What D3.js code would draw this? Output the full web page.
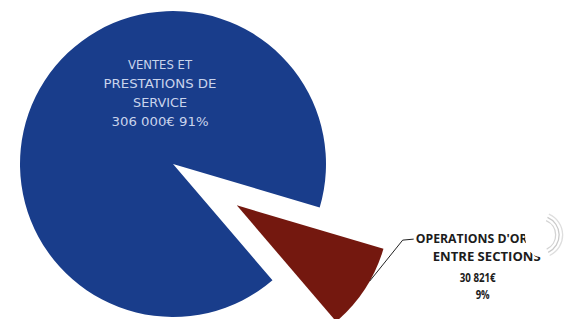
<!DOCTYPE html>
<html>
<head>
<meta charset="utf-8">
<script src="https://cdn.jsdelivr.net/npm/d3@7"></script>
<style>
  html, body { margin: 0; padding: 0; background: #fff; }
  svg { display: block; }
</style>
</head>
<body>
<div class="bod"></div>
<script>
// data
const labels = ["OPERATIONS D'ORDRE ENTRE SECTIONS", "VENTES ET PRESTATIONS DE SERVICE"]
const values = [30821, 306000]
const valueText = ["30 821€", "306 000€"]
const pctText = ["9%", "91%"]
const colors = ["#74180f", "#193d8b"]

const size = {width: 573, height: 319}
const pieCfg = {cx: 173, cy: 164, r: 153, explode: 76, startDeg: 106.5}

const svg = d3.select('.bod')
  .append('svg')
  .attr('width', size.width)
  .attr('height', size.height)

const pie = d3.pie()
  .sort(null)
  .value(d => d)
  .startAngle(pieCfg.startDeg * Math.PI / 180)
  .endAngle(pieCfg.startDeg * Math.PI / 180 + 2 * Math.PI)

const arcs = pie(values)
const arc = d3.arc().innerRadius(0).outerRadius(pieCfg.r)

// offset of each slice (only the small one is pulled out)
const offset = (d, i) => {
  if (i !== 0) return [0, 0]
  const mid = (d.startAngle + d.endAngle) / 2
  return [Math.sin(mid) * pieCfg.explode, -Math.cos(mid) * pieCfg.explode]
}

const g = svg.append('g')
  .attr('transform', `translate(${pieCfg.cx},${pieCfg.cy})`)

g.selectAll('path')
  .data(arcs)
  .enter()
  .append('path')
  .attr('d', arc)
  .attr('fill', (d, i) => colors[i])
  .attr('transform', (d, i) => `translate(${offset(d, i)})`)

// label of the big slice, inside
const bigLines = ["VENTES ET", "PRESTATIONS DE", "SERVICE", `${valueText[1]} ${pctText[1]}`]
const bigWidths = [64, 113, 54, 97]
g.append('g')
  .attr('transform', 'translate(-13,-95)')
  .selectAll('text')
  .data(bigLines)
  .enter()
  .append('text')
  .attr('x', 0)
  .attr('y', (d, i) => i * 19)
  .attr('text-anchor', 'middle')
  .attr('font-family', 'DejaVu Sans, sans-serif')
  .attr('font-size', 11.5)
  .attr('fill', '#c9d4ec')
  .attr('textLength', (d, i) => bigWidths[i])
  .attr('lengthAdjust', 'spacingAndGlyphs')
  .text(d => d)

// label of the small slice, outside with leader line
const small = arcs[0]
const off = offset(small, 0)
const outer = d3.arc().innerRadius(pieCfg.r).outerRadius(pieCfg.r)
const a0 = small.startAngle + 0.23
const p0 = outer.centroid({startAngle: a0, endAngle: a0})
const start = [p0[0] + off[0], p0[1] + off[1]]
const elbow = [start[0] + 33, start[1] - 41]
const end = [elbow[0] + 11, elbow[1] - 1]

g.append('polyline')
  .attr('points', [start, elbow, end].map(p => p.join(',')).join(' '))
  .attr('fill', 'none')
  .attr('stroke', '#222')
  .attr('stroke-width', 1)

const smallLines = ["OPERATIONS D'ORDRE", "ENTRE SECTIONS", valueText[0], pctText[0]]
const smallWidths = [136, 108, 36, 14]
const lab = g.append('g')
  .attr('transform', `translate(${end[0] + 70},${end[1]})`)
lab.selectAll('text')
  .data(smallLines)
  .enter()
  .append('text')
  .attr('x', (d, i) => [0, 3, -6, -1][i])
  .attr('y', (d, i) => [4, 22, 43, 60][i])
  .attr('text-anchor', 'middle')
  .attr('font-family', 'Liberation Sans Narrow, Open Sans, sans-serif')
  .attr('font-weight', 'bold')
  .attr('font-size', 13)
  .attr('fill', '#1c1c1c')
  .attr('textLength', (d, i) => smallWidths[i])
  .attr('lengthAdjust', 'spacingAndGlyphs')
  .text(d => d)

// glare spot over the first label line
const glare = svg.append('g').attr('transform', 'translate(540,235)')
glare.append('ellipse').attr('rx', 15).attr('ry', 22).attr('fill', '#fff')
;[15, 18.5, 22].forEach((r, i) => {
  glare.append('path')
    .attr('d', d3.arc().innerRadius(r).outerRadius(r + 1.3)({startAngle: 0.4, endAngle: 2.7}))
    .attr('fill', ['#d4d4d4', '#cacaca', '#dedede'][i])
})
</script>
</body>
</html>
